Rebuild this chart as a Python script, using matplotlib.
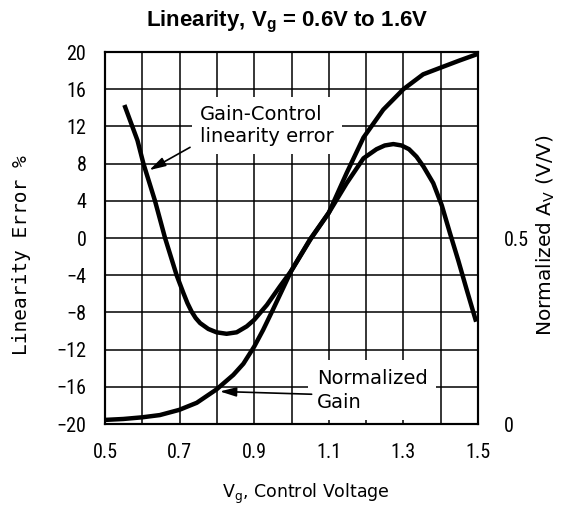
import numpy as np
import matplotlib
matplotlib.use("Agg")
from matplotlib import pyplot as plt
from matplotlib import font_manager

# linearity error curve (left axis, %)
le_x = [0.552, 0.587, 0.603, 0.634, 0.661, 0.692, 0.710, 0.721, 0.732, 0.743,
        0.755, 0.777, 0.799, 0.826, 0.853, 0.880, 0.900, 0.934, 0.969, 1.000,
        1.050, 1.099, 1.148, 1.193, 1.228, 1.250, 1.273, 1.295, 1.315, 1.335,
        1.354, 1.380, 1.403, 1.425, 1.447, 1.470, 1.495]
le_y = [14.3, 10.5, 8.0, 4.0, 0.0, -4.0, -5.9, -7.0, -7.9, -8.6,
        -9.15, -9.78, -10.14, -10.3, -10.14, -9.5, -8.8, -7.2, -5.2, -3.5,
        -0.2, 2.65, 5.9, 8.57, 9.55, 9.95, 10.1, 9.95, 9.55, 8.75,
        7.67, 5.9, 3.5, 0.5, -2.4, -5.6, -9.0]

# normalized gain curve (right axis, V/V)
gain_x = [0.5, 0.549, 0.6, 0.647, 0.699, 0.746, 0.799, 0.844, 0.871, 0.9,
          0.924, 0.95, 1.0, 1.05, 1.1, 1.148, 1.193, 1.246, 1.3, 1.353,
          1.4, 1.45, 1.5]
gain_y = [0.011, 0.0135, 0.018, 0.024, 0.038, 0.057, 0.093, 0.132, 0.162, 0.208,
          0.253, 0.307, 0.413, 0.497, 0.568, 0.675, 0.77, 0.845, 0.90, 0.94,
          0.958, 0.977, 0.995]

x_ticks = [0.5, 0.6, 0.7, 0.8, 0.9, 1.0, 1.1, 1.2, 1.3, 1.4, 1.5]
x_tick_labels = ['0.5', '', '0.7', '', '0.9', '', '1.1', '', '1.3', '', '1.5']
y_ticks = [-20, -16, -12, -8, -4, 0, 4, 8, 12, 16, 20]
y2_ticks = [0, 0.5]
y2_tick_labels = ['0', '0.5']

plt.rcParams['mathtext.fontset'] = 'custom'
plt.rcParams['mathtext.rm'] = 'DejaVu Sans'
plt.rcParams['mathtext.bf'] = 'Liberation Sans:bold'

# narrow font for tick numbers if one is there
names = {f.name for f in font_manager.fontManager.ttflist}
tick_font, tick_size, tick_stretch = 'Liberation Sans', 13, 'normal'
for cand in ['Liberation Sans Narrow', 'DejaVu Sans Condensed', 'Roboto Condensed']:
    if cand in names:
        tick_font, tick_size = cand, 14.5
        break
else:
    if any(f.name == 'DejaVu Sans' and f.stretch == 'condensed'
           for f in font_manager.fontManager.ttflist):
        tick_font, tick_size, tick_stretch = 'DejaVu Sans', 14, 'condensed'

W, H = 575, 512
fig = plt.figure(figsize=(W / 100, H / 100), dpi=100)
ax = fig.add_axes([105 / W, 1 - 424 / H, 373 / W, 372 / H])

ax.set_xlim(0.5, 1.5)
ax.set_ylim(-20, 20)
ax.set_xticks(x_ticks)
ax.set_xticklabels(x_tick_labels)
ax.set_yticks(y_ticks)
ax.grid(True, color='black', lw=1.1)
ax.tick_params(length=0, labelsize=tick_size, pad=13.5)
for lab in ax.get_xticklabels() + ax.get_yticklabels():
    lab.set_family(tick_font)
    lab.set_stretch(tick_stretch)
for sp in ax.spines.values():
    sp.set_linewidth(1.5)

ax.plot(le_x, le_y, color='black', lw=3.2, zorder=5,
        solid_capstyle='butt', solid_joinstyle='round')

ax2 = ax.twinx()
ax2.set_ylim(0, 1)
ax2.set_yticks(y2_ticks)
ax2.set_yticklabels(y2_tick_labels)
ax2.tick_params(length=0, labelsize=tick_size, pad=18.5)
for lab in ax2.get_yticklabels():
    lab.set_family(tick_font)
    lab.set_stretch(tick_stretch)
for sp in ax2.spines.values():
    sp.set_linewidth(1.5)
ax2.plot(gain_x, gain_y, color='black', lw=3.2, zorder=5,
         solid_capstyle='butt', solid_joinstyle='round')

# annotations
box = dict(facecolor='white', edgecolor='none', pad=6)
arrow = dict(arrowstyle='-|>,head_length=0.7,head_width=0.2', lw=1.2,
             color='black', shrinkA=0, shrinkB=0, mutation_scale=14)
ax.text(0.755, 14.3, 'Gain-Control\nlinearity error', ha='left', va='top',
        fontsize=14, family='DejaVu Sans', bbox=box, zorder=3)
ax.annotate('', xy=(0.619, 7.3), xytext=(0.728, 9.75), arrowprops=arrow, zorder=4)
ax.text(1.0675, -14.05, 'Normalized\nGain', ha='left', va='top',
        fontsize=14, family='DejaVu Sans', linespacing=1.35, bbox=box, zorder=3)
ax.annotate('', xy=(0.808, -16.5), xytext=(1.054, -16.8), arrowprops=arrow, zorder=4)

# titles and axis labels
fig.text(0.5, 1 - 26.7 / H, r'Linearity, V$_{\mathbf{g}}$ = 0.6V to 1.6V',
         ha='center', va='baseline', fontsize=16, fontweight='bold',
         family='Liberation Sans')
fig.text(21.7 / W, 1 - 255 / H, 'Linearity Error %', rotation=90,
         ha='center', va='center', fontsize=14, family='DejaVu Sans Mono')
fig.text(546 / W, 1 - 235 / H, r'Normalized A$_\mathrm{V}$ (V/V)', rotation=90,
         ha='center', va='center', fontsize=14.5, family='DejaVu Sans')
fig.text(306 / W, 1 - 497.7 / H, r'V$_\mathrm{g}$, Control Voltage',
         ha='center', va='baseline', fontsize=12.5, family='DejaVu Sans')

plt.savefig('out.png', dpi=100)
plt.close(fig)
